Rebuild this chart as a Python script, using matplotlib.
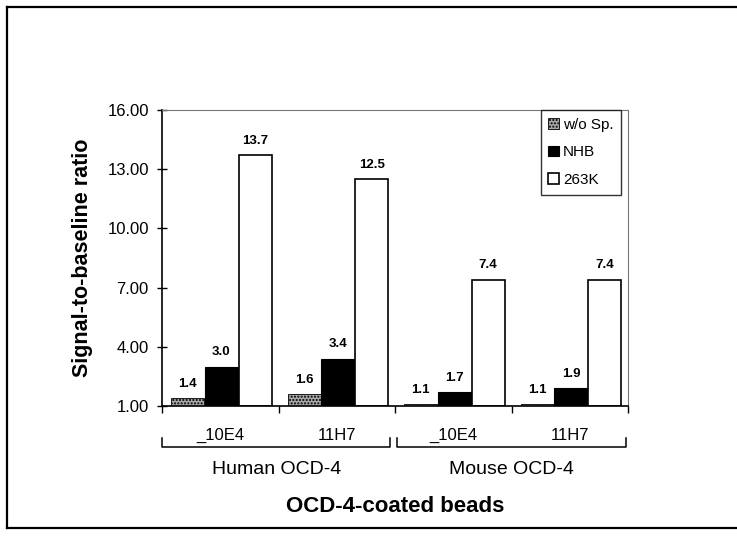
import matplotlib.pyplot as plt
from matplotlib.lines import Line2D
import numpy as np

plt.rcParams['font.family'] = ['Liberation Sans', 'DejaVu Sans']

# data
clones = ['_10E4', '11H7', '_10E4', '11H7']
groups = ['Human OCD-4', 'Mouse OCD-4']
series = ['w/o Sp.', 'NHB', '263K']
wo_sp = [1.4, 1.6, 1.1, 1.1]
nhb = [3.0, 3.4, 1.7, 1.9]
k263 = [13.7, 12.5, 7.4, 7.4]
yticks = [1, 4, 7, 10, 13, 16]

fig = plt.figure(figsize=(7.37, 5.38), dpi=100)
ax = fig.add_axes([162 / 737, 1 - 406 / 538, 466 / 737, 296 / 538])

x = np.arange(len(clones))
w = 0.285
base = 1.0
styles = [
    dict(facecolor='#a8a8a8', edgecolor='black', hatch='.....', linewidth=0.6),
    dict(facecolor='black', edgecolor='black', linewidth=0.8),
    dict(facecolor='white', edgecolor='black', linewidth=1.2),
]
for i, (vals, name, st) in enumerate(zip([wo_sp, nhb, k263], series, styles)):
    vals = np.array(vals)
    pos = x + (i - 1) * 0.29 + 0.01
    bars = ax.bar(pos, vals - base, w, bottom=base, label=name, **st)
    for p, v in zip(pos, vals):
        ax.annotate(f'{v:.1f}', (p, v), xytext=(0, 6), textcoords='offset points',
                    ha='center', va='bottom', fontsize=9.5, fontweight='bold')

ax.set_xlim(-0.5, 3.5)
ax.set_ylim(1, 16)
ax.set_yticks(yticks)
ax.set_yticklabels([f'{t:.2f}' for t in yticks], fontsize=12)
ax.tick_params(axis='y', direction='inout', length=7, width=1, pad=6)

ax.set_xticks(x)
ax.set_xticklabels(clones, fontsize=12)
ax.tick_params(axis='x', which='major', length=0, pad=16)
ax.set_xticks(np.arange(-0.5, 4.0, 1.0), minor=True)
ax.tick_params(axis='x', which='minor', direction='out', length=5, width=1)

for s in ['top', 'right']:
    ax.spines[s].set_linestyle((0, (1, 1)))
    ax.spines[s].set_color('#777777')
    ax.spines[s].set_linewidth(0.8)
for s in ['left', 'bottom']:
    ax.spines[s].set_linewidth(1.2)

ax.set_ylabel('Signal-to-baseline ratio', fontsize=15.5, fontweight='bold')
ax.yaxis.set_label_coords(-0.148, 0.5)

# group brackets under the tick labels
yb, yt = -0.139, -0.108
for g, (x0, x1) in enumerate([(0.0, 0.49), (0.505, 0.995)]):
    ax.plot([x0, x0, x1, x1], [yt, yb, yb, yt], transform=ax.transAxes,
            color='black', lw=1.1, clip_on=False)
    ax.text((x0 + x1) / 2, -0.215, groups[g], transform=ax.transAxes,
            ha='center', va='center', fontsize=14)
ax.text(0.5, -0.34, 'OCD-4-coated beads', transform=ax.transAxes,
        ha='center', va='center', fontsize=16, fontweight='bold')

leg = ax.legend(loc='upper right', bbox_to_anchor=(0.985, 1.0), fontsize=11,
                frameon=True, fancybox=False, edgecolor='black',
                handlelength=0.7, handleheight=0.7, handletextpad=0.25,
                labelspacing=0.9, borderpad=0.5, borderaxespad=0)
leg.get_frame().set_linewidth(1.0)

# outer frame of the scanned figure
W, H = 737, 538
fig.add_artist(Line2D([7 / W, 7 / W], [1 - 7 / H, 1 - 528 / H], color='black', lw=1.6))
fig.add_artist(Line2D([7 / W, 1.0], [1 - 7 / H, 1 - 7 / H], color='black', lw=1.6))
fig.add_artist(Line2D([7 / W, 1.0], [1 - 528 / H, 1 - 528 / H], color='black', lw=1.6))

fig.savefig('out.png', dpi=100)
